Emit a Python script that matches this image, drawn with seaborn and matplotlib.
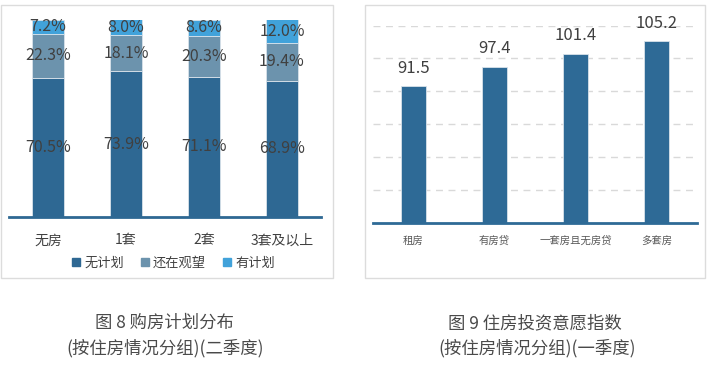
import matplotlib
matplotlib.use("Agg")
import matplotlib.pyplot as plt
from matplotlib.patches import Rectangle
from matplotlib.lines import Line2D
import seaborn as sns
import pandas as pd
import numpy as np

# ---- data ----
left_categories = ["无房", "1套", "2套", "3套及以上"]
no_plan = [70.5, 73.9, 71.1, 68.9]
watching = [22.3, 18.1, 20.3, 19.4]
has_plan = [7.2, 8.0, 8.6, 12.0]
left_series = ["无计划", "还在观望", "有计划"]

right_categories = ["租房", "有房贷", "一套房且无房贷", "多套房"]
right_values = [91.5, 97.4, 101.4, 105.2]

caption_left = ["图 8 购房计划分布", "(按住房情况分组)(二季度)"]
caption_right = ["图 9 住房投资意愿指数", "(按住房情况分组)(一季度)"]

# ---- style ----
sns.set_style("white")
plt.rcParams["font.family"] = ["Noto Sans CJK SC", "DejaVu Sans"]

c_dark = "#2E6893"
c_mid = "#6C93AD"
c_light = "#41A2DA"
txt = "#404040"

fig = plt.figure(figsize=(7.09, 3.66), dpi=100)

# panel frames
for x0, w in [(1 / 709, 332 / 709), (365 / 709, 340 / 709)]:
    fig.patches.append(Rectangle((x0, 88 / 366), w, 273 / 366, transform=fig.transFigure,
                                 fill=False, edgecolor="#dcdcdc", linewidth=1))

# ---- left stacked bar ----
axL = fig.add_axes([9 / 709, 149 / 366, 312 / 709, 197.5 / 366])
dfL = pd.DataFrame({"cat": left_categories, "no": no_plan, "watch": watching, "plan": has_plan})
b1 = np.array(no_plan)
b2 = b1 + np.array(watching)
sns.barplot(data=dfL, x="cat", y="no", color=c_dark, width=0.41, saturation=1, ax=axL,
            edgecolor="#d8e2ea", linewidth=0.6)
sns.barplot(data=dfL, x="cat", y="watch", bottom=b1, color=c_mid, width=0.41, saturation=1, ax=axL,
            edgecolor="#d8e2ea", linewidth=0.6)
sns.barplot(data=dfL, x="cat", y="plan", bottom=b2, color=c_light, width=0.41, saturation=1, ax=axL,
            edgecolor="#d8e2ea", linewidth=0.6)
for cont in axL.containers:
    axL.bar_label(cont, fmt="%.1f%%", label_type="center", fontsize=11.5, color=txt)
axL.set_ylim(0, 100)
axL.set_xlim(-0.5, 3.5)
axL.set_xlabel("")
axL.set_ylabel("")
axL.set_yticks([])
for s in ["top", "right", "left"]:
    axL.spines[s].set_visible(False)
axL.spines["bottom"].set_color(c_dark)
axL.spines["bottom"].set_linewidth(2)
axL.tick_params(axis="x", length=0, pad=12, labelsize=10, labelcolor=txt)

handles = [Line2D([], [], marker="s", linestyle="", color=c, markersize=6)
           for c in [c_dark, c_mid, c_light]]
fig.legend(handles, left_series, loc="center", bbox_to_anchor=(173 / 709, 1 - 263 / 366),
           ncol=3, frameon=False, fontsize=9.5, handlelength=0.8, handletextpad=0.2,
           columnspacing=1.2, labelcolor=txt)

# ---- right bar ----
axR = fig.add_axes([373 / 709, 143 / 366, 324 / 709, 197.4 / 366])
dfR = pd.DataFrame({"cat": right_categories, "val": right_values})
sns.barplot(data=dfR, x="cat", y="val", color="#2E6A96", width=0.315, saturation=1, ax=axR,
            edgecolor="#d8e2ea", linewidth=0.6)
axR.set_ylim(50, 110)
axR.set_xlim(-0.5, 3.5)
axR.set_yticks([60, 70, 80, 90, 100, 110])
axR.yaxis.grid(True, linestyle=(0, (5, 4)), color="#d9d9d9", linewidth=1)
axR.set_axisbelow(True)
axR.tick_params(axis="y", length=0, labelleft=False)
axR.set_xlabel("")
axR.set_ylabel("")
for s in ["top", "right", "left"]:
    axR.spines[s].set_visible(False)
axR.spines["bottom"].set_color("#2E6A96")
axR.spines["bottom"].set_linewidth(2)
axR.tick_params(axis="x", length=0, pad=9, labelsize=7.5, labelcolor="#595959")
axR.bar_label(axR.containers[0], fmt="%.1f", padding=7, fontsize=12, color=txt)

# ---- captions ----
cap_col = "#4a4a4a"
fig.text(164 / 709, 1 - 323 / 366, caption_left[0], ha="center", va="center", fontsize=12.5, color=cap_col)
fig.text(165 / 709, 1 - 348 / 366, caption_left[1], ha="center", va="center", fontsize=12.5, color=cap_col)
fig.text(535 / 709, 1 - 323 / 366, caption_right[0], ha="center", va="center", fontsize=12.5, color=cap_col)
fig.text(537 / 709, 1 - 348 / 366, caption_right[1], ha="center", va="center", fontsize=12.5, color=cap_col)

fig.savefig("out.png", dpi=100, facecolor="white")
